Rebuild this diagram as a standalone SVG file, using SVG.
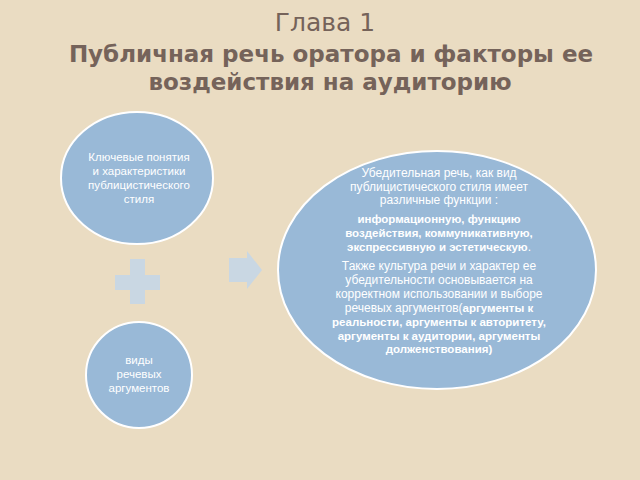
<svg xmlns="http://www.w3.org/2000/svg" width="640" height="480" viewBox="0 0 640 480">
<style>
.bg{fill:#EADCC2}
.node{fill:#99B9D7;stroke:#FFFFFF;stroke-width:2}
.sym{fill:#C9D7E3}
.t{font-family:"Liberation Sans","Open Sans",sans-serif;fill:#FFFFFF;text-anchor:middle;white-space:pre}
.s{font-size:11.5px}
.b{font-weight:bold;font-size:11.5px}
.h{font-family:"DejaVu Sans",sans-serif;fill:#75635A;text-anchor:middle}
</style>
<rect class="bg" x="0" y="0" width="640" height="480"/>
<g id="title">
<text class="h" x="325" y="31" font-size="25">Глава 1</text>
<text class="h" x="331" y="62" font-size="23" font-weight="bold">Публичная речь оратора и факторы ее</text>
<text class="h" x="330" y="90" font-size="23" font-weight="bold">воздействия на аудиторию</text>
</g>
<g id="connectors">
<g id="plus"><rect class="sym" x="130" y="259" width="15" height="45"/><rect class="sym" x="115" y="275" width="45" height="15"/></g>
<polygon id="arrow" class="sym" points="229,258 247,258 247,251 262,270 247,289 247,282 229,282"/>
</g>
<g id="node-concepts">
<ellipse class="node" cx="137" cy="178" rx="76" ry="66"/>
<text class="t s" x="139" y="161">Ключевые понятия</text>
<text class="t s" x="139" y="175">и характеристики</text>
<text class="t s" x="139" y="189">публицистического</text>
<text class="t s" x="139" y="203">стиля</text>
</g>
<g id="node-types">
<circle class="node" cx="139" cy="375" r="53"/>
<text class="t s" x="139" y="364">виды</text>
<text class="t s" x="139" y="378">речевых</text>
<text class="t s" x="139" y="392">аргументов</text>
</g>
<g id="node-speech">
<ellipse class="node" cx="437" cy="270" rx="159" ry="119"/>
<g class="t" font-size="12">
<text x="439" y="177">Убедительная речь, как вид</text>
<text x="439" y="191">публицистического стиля имеет</text>
<text x="439" y="204">различные  функции :</text>
<text x="439" y="223" class="b">информационную, функцию</text>
<text x="439" y="237" class="b">воздействия, коммуникативную,</text>
<text x="439" y="251"><tspan class="b">экспрессивную   и эстетическую</tspan>.</text>
<text x="439" y="270">Также культура речи и характер ее</text>
<text x="439" y="284">убедительности основывается на</text>
<text x="439" y="298">корректном использовании и выборе</text>
<text x="439" y="312">речевых аргументов(<tspan class="b">аргументы к</tspan></text>
<text x="439" y="326" class="b">реальности, аргументы к авторитету,</text>
<text x="439" y="340" class="b">аргументы к аудитории, аргументы</text>
<text x="439" y="353" class="b">долженствования)</text>
</g>
</g>
</svg>
